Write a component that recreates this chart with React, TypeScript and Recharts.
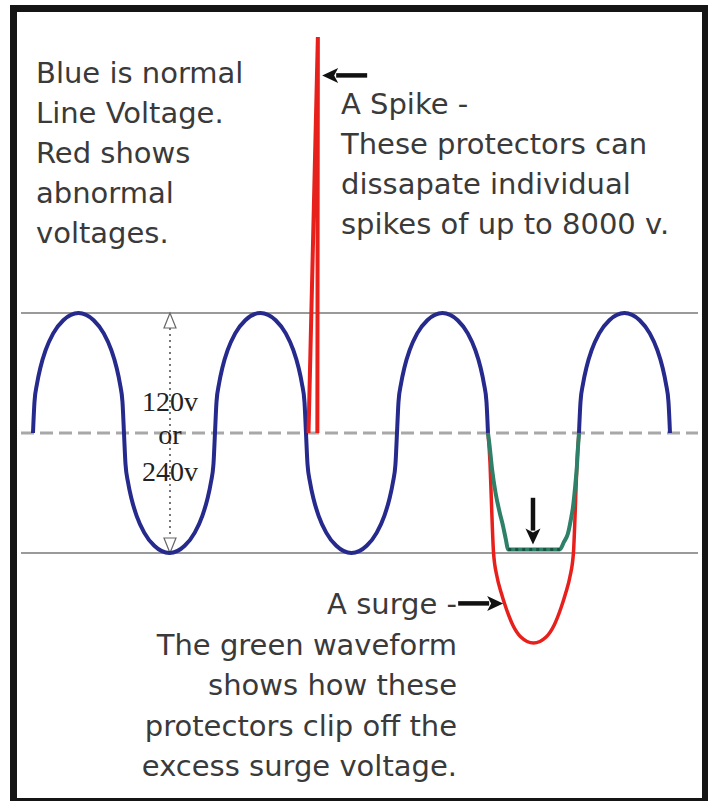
import { ComposedChart, Line, XAxis, YAxis, ReferenceLine } from 'recharts';

// x = phase angle in degrees (180 = one half cycle), y = voltage relative to the normal peak
const blueAngle = [
  0, 3, 8, 15, 25, 40, 60, 90, 120, 140, 155, 165, 172, 177,
  180, 183, 188, 195, 205, 220, 240, 270, 300, 320, 335, 345, 352, 357,
  360, 363, 368, 375, 385, 400, 420, 450, 480, 500, 515, 525, 532, 537,
  540, 543, 548, 555, 565, 580, 600, 630, 660, 680, 695, 705, 712, 717,
  720, 723, 728, 735, 745, 760, 780, 810, 840, 860, 875, 885, 892, 897, 900,
  990,
  1080, 1083, 1088, 1095, 1105, 1120, 1140, 1170, 1200, 1220, 1235, 1245, 1252, 1257, 1260,
];
const blueVolts = [
  0, 0.26, 0.41, 0.55, 0.69, 0.83, 0.94, 1, 0.94, 0.83, 0.69, 0.55, 0.41, 0.26,
  0, -0.26, -0.41, -0.55, -0.69, -0.83, -0.94, -1, -0.94, -0.83, -0.69, -0.55, -0.41, -0.26,
  0, 0.26, 0.41, 0.55, 0.69, 0.83, 0.94, 1, 0.94, 0.83, 0.69, 0.55, 0.41, 0.26,
  0, -0.26, -0.41, -0.55, -0.69, -0.83, -0.94, -1, -0.94, -0.83, -0.69, -0.55, -0.41, -0.26,
  0, 0.26, 0.41, 0.55, 0.69, 0.83, 0.94, 1, 0.94, 0.83, 0.69, 0.55, 0.41, 0.26, 0,
  null,
  0, 0.26, 0.41, 0.55, 0.69, 0.83, 0.94, 1, 0.94, 0.83, 0.69, 0.55, 0.41, 0.26, 0,
];

const surgeAngle = [900, 904, 907, 911, 918, 926, 935, 949, 965, 990, 1015, 1031, 1045, 1054, 1062, 1069, 1073, 1076, 1080];
const surgeVolts = [0, -0.25, -0.6, -1.0, -1.2, -1.33, -1.45, -1.6, -1.7, -1.75, -1.7, -1.6, -1.45, -1.33, -1.2, -1.0, -0.6, -0.25, 0];

const clippedAngle = [900, 903, 908, 915, 923, 930, 935, 940, 990, 1042, 1050, 1058, 1064, 1068, 1073, 1076, 1078, 1080];
const clippedVolts = [0, -0.1, -0.3, -0.5, -0.66, -0.78, -0.88, -0.97, -0.97, -0.97, -0.91, -0.84, -0.72, -0.62, -0.42, -0.27, -0.12, 0];

const clampAngle = [940, 1042];
const clampVolts = [-0.97, -0.97];

const spikeAngle = [545, 563.5, 562.5];
const spikeVolts = [0, 3.3, 0];

const introText = ['Blue is normal', 'Line Voltage.', 'Red shows', 'abnormal', 'voltages.'];
const spikeText = ['A Spike -', 'These protectors can', 'dissapate individual', 'spikes of up to 8000 v.'];
const surgeText = ['A surge -', 'The green waveform', 'shows how these', 'protectors clip off the', 'excess surge voltage.'];
const spanText = ['120v', 'or', '240v'];

const toPoints = (xs: number[], ys: (number | null)[]) => xs.map((x, i) => ({ x, y: ys[i] }));

const Arrow = (props: any) => {
  const { x1, y1, x2, y2 } = props;
  const len = Math.hypot(x2 - x1, y2 - y1);
  const ux = (x2 - x1) / len;
  const uy = (y2 - y1) / len;
  const head = 16;
  const half = 7.5;
  const bx = x2 - ux * head;
  const by = y2 - uy * head;
  return (
    <g>
      <line x1={x1} y1={y1} x2={bx + ux * 2} y2={by + uy * 2} stroke="#111" strokeWidth={4.5} />
      <polygon
        points={`${x2},${y2} ${bx - uy * half},${by + ux * half} ${bx + ux * 4},${by + uy * 4} ${bx + uy * half},${by - ux * half}`}
        fill="#111"
      />
    </g>
  );
};

const Span = (props: any) => {
  const { x1, y1, y2 } = props;
  const top = Math.min(y1, y2);
  const bottom = Math.max(y1, y2);
  return (
    <g>
      <line x1={x1} y1={top + 15} x2={x1} y2={bottom - 15} stroke="#555" strokeWidth={1.6} strokeDasharray="2 4" />
      <polygon points={`${x1},${top} ${x1 - 6},${top + 15} ${x1 + 6},${top + 15}`} fill="#fff" stroke="#666" strokeWidth={1.2} />
      <polygon points={`${x1},${bottom} ${x1 - 6},${bottom - 15} ${x1 + 6},${bottom - 15}`} fill="#fff" stroke="#666" strokeWidth={1.2} />
    </g>
  );
};

const sans = '"DejaVu Sans", Verdana, sans-serif';
const noteColor = '#3a3a3a';

export default function App() {
  return (
    <div style={{ position: 'absolute', left: 0, top: 0, width: 713, height: 801, background: '#fff', overflow: 'hidden' }}>
      <div
        style={{
          position: 'absolute',
          left: 10,
          top: 5,
          width: 698,
          height: 796,
          boxSizing: 'border-box',
          borderStyle: 'solid',
          borderColor: '#151515',
          borderWidth: '7px 6px 3px 7px',
        }}
      />
      <div style={{ position: 'absolute', left: 0, top: 0 }}>
        <ComposedChart width={713} height={801} margin={{ top: 13, right: 15, bottom: 8, left: 21 }}>
          <XAxis type="number" dataKey="x" domain={[-23.7, 1315.4]} allowDataOverflow hide />
          <YAxis type="number" domain={[-3, 3.5]} allowDataOverflow hide />
          <ReferenceLine y={1} stroke="#9a9a9a" strokeWidth={2} />
          <ReferenceLine y={-1} stroke="#9a9a9a" strokeWidth={2} />
          <ReferenceLine y={0} stroke="#a8a8a8" strokeWidth={3} strokeDasharray="13 6" />
          <ReferenceLine segment={[{ x: 271, y: 1 }, { x: 271, y: -1 }]} shape={Span} />
          <Line data={toPoints(blueAngle, blueVolts)} dataKey="y" type="monotone" stroke="#262a8c" strokeWidth={4} dot={false} activeDot={false} isAnimationActive={false} />
          <Line data={toPoints(surgeAngle, surgeVolts)} dataKey="y" type="monotone" stroke="#e8201c" strokeWidth={3.5} dot={false} activeDot={false} isAnimationActive={false} />
          <Line data={toPoints(clippedAngle, clippedVolts)} dataKey="y" type="monotone" stroke="#2e8068" strokeWidth={4} dot={false} activeDot={false} isAnimationActive={false} />
          <Line data={toPoints(clampAngle, clampVolts)} dataKey="y" type="linear" stroke="#175440" strokeWidth={3} strokeDasharray="3 4" dot={false} activeDot={false} isAnimationActive={false} />
          <Line data={toPoints(spikeAngle, spikeVolts)} dataKey="y" type="linear" stroke="#e8201c" strokeWidth={4} dot={false} activeDot={false} isAnimationActive={false} />
          <ReferenceLine segment={[{ x: 661, y: 2.98 }, { x: 572, y: 2.98 }]} shape={Arrow} />
          <ReferenceLine segment={[{ x: 841, y: -1.42 }, { x: 930, y: -1.42 }]} shape={Arrow} />
          <ReferenceLine segment={[{ x: 989, y: -0.54 }, { x: 989, y: -0.93 }]} shape={Arrow} />
        </ComposedChart>
      </div>

      <div style={{ position: 'absolute', left: 36, top: 53, fontFamily: sans, fontSize: 29, lineHeight: '40px', color: noteColor, whiteSpace: 'nowrap' }}>
        {introText.map((t) => (
          <div key={t}>{t}</div>
        ))}
      </div>
      <div style={{ position: 'absolute', left: 341, top: 84, fontFamily: sans, fontSize: 29, lineHeight: '40px', color: noteColor, whiteSpace: 'nowrap' }}>
        {spikeText.map((t) => (
          <div key={t}>{t}</div>
        ))}
      </div>
      <div style={{ position: 'absolute', left: 0, width: 457, top: 584, fontFamily: sans, fontSize: 29, lineHeight: '40.5px', color: noteColor, textAlign: 'right', whiteSpace: 'nowrap' }}>
        {surgeText.map((t) => (
          <div key={t}>{t}</div>
        ))}
      </div>
      {spanText.map((t, i) => (
        <div
          key={t}
          style={{
            position: 'absolute',
            left: 130,
            width: 80,
            top: [387, 420, 457][i],
            textAlign: 'center',
            fontFamily: '"Liberation Serif", "Times New Roman", serif',
            fontSize: 28,
            lineHeight: '30px',
            color: '#222',
          }}
        >
          {t}
        </div>
      ))}
    </div>
  );
}
